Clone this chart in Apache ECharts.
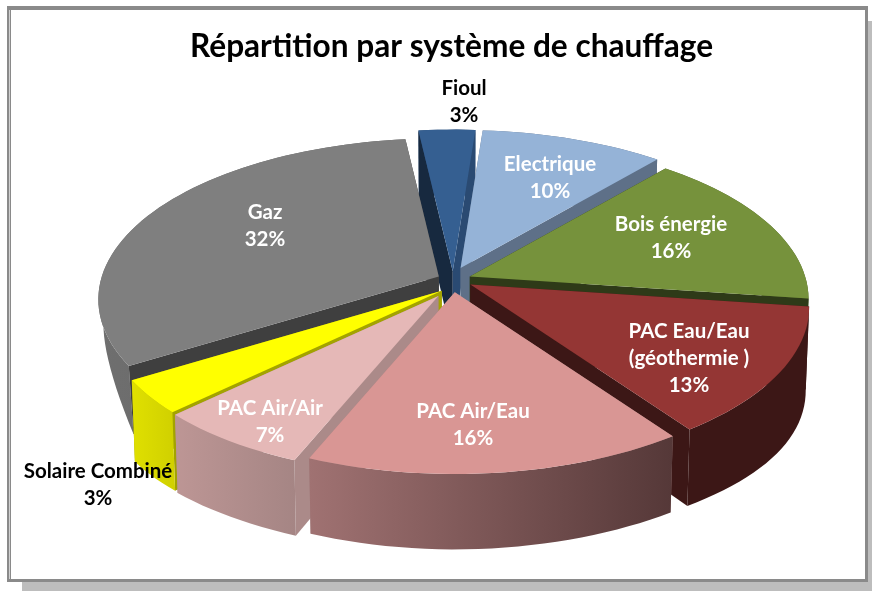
<!DOCTYPE html>
<html><head><meta charset="utf-8">
<style>html,body{margin:0;padding:0;background:#fff}#c{width:872px;height:591px}</style>
<script src="https://cdn.jsdelivr.net/npm/echarts@6/dist/echarts.min.js"></script>
</head><body><div id="c"></div>
<script>
const categories = ['Fioul','Electrique','Bois énergie','PAC Eau/Eau\n(géothermie )','PAC Air/Eau','PAC Air/Air','Solaire Combiné','Gaz'];
const values = [3,10,16,13,16,6.6,3.4,32];
const topColors = ['#355f91','#95b3d7','#76923c','#943634','#d99694','#e5b8b7','#ffff00','#7f7f7f'];
const cutColors = ['#2a4a72','#5e7088','#2e3a18','#3c1716','#a08080','#ab8a89','#a3a300','#3f3f3f'];
const cutColorsB = ['#17293f','#5e7088','#2e3a18','#3c1716','#a08080','#ab8a89','#a3a300','#3f3f3f'];
const wallFrom = ['#2a4a72','#5e7088','#4e6128','#3c1716','#a07272','#bd9695','#e0e000','#6f6f6f'];
const wallTo = ['#2a4a72','#5e7088','#4e6128','#3c1716','#553838','#a58584','#d0d000','#5f5f5f'];
const explode = [14,20,18,18,16,26,18,18];
const nudgeX = [0,0,0,2,0,0,3,2];
const nudgeY = [0,0,0,-3,0,0,2,1];
const radiusScale = [1.03,1,0.995,0.995,0.99,0.98,1,1];
const labelColors = ['#000','#fff','#fff','#fff','#fff','#fff','#000','#fff'];
const labelCentres = [[464,101.5],[550,177.5],[671,237.5],[689,358],[473,425],[270,422],[98,485],[265,225.5]];
const drawOrder = [0,1,7,2,3,6,5,4];

const CX=453, CY=281, RX=337, RY=157.7, PERSP=1/7, DEPTH=70, SHRINK_X=0.99, STRETCH_Y=1.03, BULGE=12, START=-6.5;
const GAZ=7;
const rad=d=>d*Math.PI/180;
const total=values.reduce((a,b)=>a+b,0);
const angles=[]; { let a=START; values.forEach(v=>{angles.push([a,a+v/total*360]); a+=v/total*360;}); }

function proj(th,rho){
  const X=rho*Math.sin(rad(th)), Y=-rho*Math.cos(rad(th));
  const w=1/(1-PERSP*Y);
  return [X*RX*w, Y*RY*w];
}
function low(p){ const t=p[0]/RX; return [p[0]*SHRINK_X, p[1]*STRETCH_Y+DEPTH+BULGE*t*t*t*t]; }
// The left wall of the largest slice narrows towards the far side in the reference.
function lowGaz(p,th){ const s=Math.max(0,263-th)/25; return [p[0]*0.985, p[1]+25+44*s*s]; }

function renderItem(params, api){
  const i=api.value(2);
  const [a0,a1]=angles[i];
  const m=(a0+a1)/2;
  const ox=CX+explode[i]*Math.sin(rad(m))+nudgeX[i], oy=CY-0.7*explode[i]*Math.cos(rad(m))+nudgeY[i];
  const abs=p=>[p[0]+ox,p[1]+oy];
  const n=Math.max(4,Math.ceil((a1-a0)/2));
  const arcTop=[], arcLow=[];
  for(let k=0;k<=n;k++){
    const th=a0+(a1-a0)*k/n, p=proj(th,radiusScale[i]);
    arcTop.push(abs(p));
    arcLow.push(abs(i===GAZ?lowGaz(p,th):low(p)));
  }
  const vTop=abs([0,0]), vLow=abs(low([0,0]));
  const poly=(pts,fill)=>({type:'polygon',shape:{points:pts},style:{fill:fill,stroke:null}});
  const grad=new echarts.graphic.LinearGradient(0,0,1,0,[{offset:0,color:wallFrom[i]},{offset:1,color:wallTo[i]}]);
  const wall=poly(arcTop.concat(arcLow.slice().reverse()),grad);
  const cutA=poly([vTop,arcTop[0],arcLow[0],vLow],cutColorsB[i]);
  const cutB=poly([vTop,arcTop[n],arcLow[n],vLow],cutColors[i]);
  const top=poly([vTop].concat(arcTop),topColors[i]);
  const front=Math.cos(rad(m))<0;
  const children=front?[cutA,cutB,wall,top]:[wall,cutA,cutB,top];
  const pct=Math.round(api.value(0))+'%';
  children.push({type:'text',style:{
    text:categories[i]+'\n'+pct,x:labelCentres[i][0],y:labelCentres[i][1],
    align:'center',verticalAlign:'middle',
    fontFamily:'Lato',fontWeight:'bold',fontSize:20.5,lineHeight:27,fill:labelColors[i]
  }});
  return {type:'group',children};
}

const chart=echarts.init(document.getElementById('c'),null,{renderer:'canvas'});
chart.setOption({
  animation:false,
  backgroundColor:'#fff',
  title:{text:'Répartition par système de chauffage',left:190,top:31,padding:0,
    textStyle:{fontFamily:'Lato',fontWeight:'bold',fontSize:31.6,color:'#000'}},
  graphic:[
    {type:'rect',z:-10,shape:{x:22,y:21,width:850,height:570},style:{fill:'#bdbdbd'}},
    {type:'rect',z:-9,shape:{x:7,y:6,width:861,height:576},style:{fill:'#8a8a8a'}},
    {type:'rect',z:-8,shape:{x:11,y:10,width:854,height:569},style:{fill:'#fff'}},
    {type:'rect',z:-7,shape:{x:9,y:10,width:1,height:569},style:{fill:'#d0d0d0'}}
  ],
  series:[{
    type:'custom',coordinateSystem:'none',renderItem,
    data:drawOrder.map(i=>[values[i],categories[i],i])
  }]
});
</script></body></html>
